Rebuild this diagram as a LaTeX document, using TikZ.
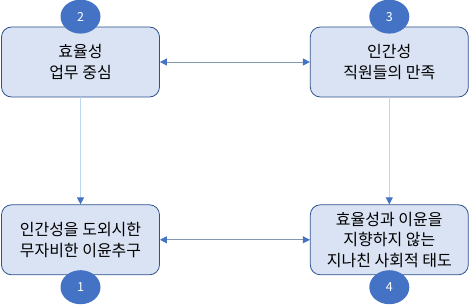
\documentclass[tikz,border=0pt]{standalone}
\usepackage{fontspec}
\setmainfont{Noto Sans CJK KR}
\usepackage{xcolor}
\usepackage{tikz}
\usetikzlibrary{positioning}
\usetikzlibrary{arrows.meta, shapes.geometric}

\definecolor{boxfill}{HTML}{DAE3F3}
\definecolor{boxline}{HTML}{2F528F}
\definecolor{badgefill}{HTML}{4472C4}
\definecolor{hline}{HTML}{8497B0}
\definecolor{vline}{HTML}{BDD7EE}

\begin{document}
\begin{tikzpicture}[
			x=1pt, y=-1pt,
			node distance=150pt,
			box/.style={
				draw=boxline,
				line width=0.8pt,
				fill=boxfill,
				rectangle,
				rounded corners=10pt,
				align=center,
				minimum width=158pt,
				minimum height=70pt,
				inner sep=2pt,
				font=\fontsize{16}{20.5}\selectfont
			},
			badge/.style={
				ellipse,
				fill=badgefill,
				text=white,
				minimum width=40pt,
				minimum height=34pt,
				inner sep=0pt,
				font=\fontsize{12.5}{14}\selectfont
			},
			harrow/.style={{Triangle[length=7pt,width=7pt,color=badgefill]}-{Triangle[length=7pt,width=7pt,color=badgefill]}, draw=hline, line width=0.9pt},
			varrow/.style={-{Triangle[length=7pt,width=7pt,color=badgefill]}, draw=vline, line width=0.9pt}
			]
			\useasboundingbox (0,0) rectangle (470,305);
			
			\node[box] (eff) at (80.5,62) {효율성\\업무 중심};
			\node[box, right=150pt of eff] (hum) {인간성\\직원들의 만족};
			\node[box, below=107pt of eff] (prof) {인간성을 도외시한\\무자비한 이윤추구};
			\node[box, right=150pt of prof] (soc) {효율성과 이윤을\\지향하지 않는\\지나친 사회적 태도};
			
			\node[badge, yshift=10pt] (n2) at (eff.north) {2};
			\node[badge, yshift=10pt] (n3) at (hum.north) {3};
			\node[badge, yshift=-12pt] (n1) at (prof.south) {1};
			\node[badge, yshift=-12pt] (n4) at (soc.south) {4};
			
			\draw[harrow] (eff) -- (hum);
			\draw[harrow] (prof) -- (soc);
			\draw[varrow] (eff) -- (prof);
			\draw[varrow] (hum) -- (soc);
			
		\end{tikzpicture}
\end{document}
